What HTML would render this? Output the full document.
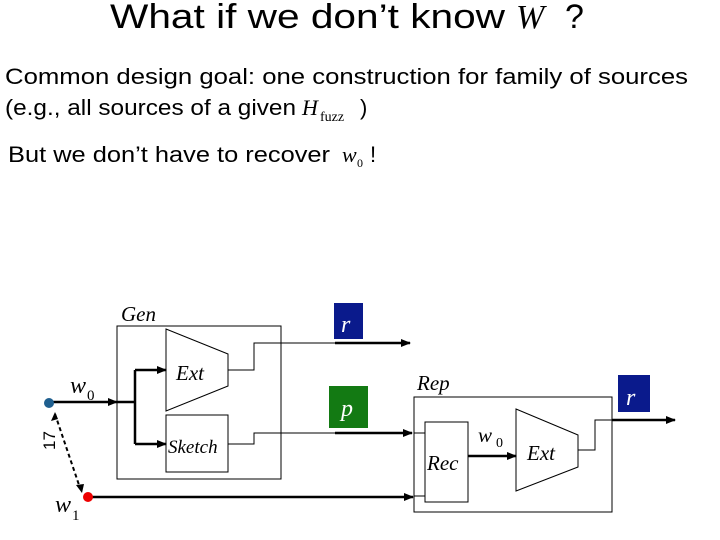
<!DOCTYPE html>
<html><head><meta charset="utf-8"><style>
html,body{margin:0;padding:0;background:#fff;width:720px;height:540px;overflow:hidden}
svg{display:block}
.s{font-family:"Liberation Sans",sans-serif}
.t{font-family:"Liberation Serif",serif;font-style:italic}
</style></head><body>
<svg width="720" height="540" viewBox="0 0 720 540">
<defs><marker id="a" markerWidth="10" markerHeight="8" refX="9" refY="4" orient="auto" markerUnits="userSpaceOnUse"><path d="M0,0L10,4L0,8z" fill="#000"/></marker></defs>
<text class="s" x="110" y="28" font-size="34" textLength="395" lengthAdjust="spacingAndGlyphs">What if we don’t know</text>
<text class="t" x="516" y="28" font-size="34">W</text>
<text class="s" x="565" y="28" font-size="34">?</text>
<text class="s" x="5" y="84" font-size="22" textLength="683" lengthAdjust="spacingAndGlyphs">Common design goal: one construction for family of sources</text>
<text class="s" x="5" y="115" font-size="22" textLength="291" lengthAdjust="spacingAndGlyphs">(e.g., all sources of a given</text>
<text class="t" x="302" y="115" font-size="22">H</text>
<text x="320" y="121" font-size="14" font-family="Liberation Serif">fuzz</text>
<text class="s" x="360" y="115" font-size="22">)</text>
<text class="s" x="8" y="162" font-size="22" textLength="322" lengthAdjust="spacingAndGlyphs">But we don’t have to recover</text>
<text class="t" x="342" y="162" font-size="22">w</text>
<text x="357" y="167" font-size="12" font-family="Liberation Serif">0</text>
<text class="s" x="370" y="162" font-size="22">!</text>
<g fill="none" stroke="#000">
<rect x="117" y="326" width="164" height="153" stroke-width="1"/>
<path d="M166,329L228,354L228,386L166,411Z"/>
<rect x="166" y="415" width="62" height="57"/>
<path d="M228,370H254V343H335" />
<path d="M228,444H254V433H335"/>
<path d="M335,343H410" stroke-width="2.5" marker-end="url(#a)"/>
<path d="M335,433H412" stroke-width="2.5" marker-end="url(#a)"/>
<path d="M52,402H117" stroke-width="2.5" marker-end="url(#a)"/>
<path d="M117,402H135M135,370V444" stroke-width="2.5"/>
<path d="M135,370H166" stroke-width="2.5" marker-end="url(#a)"/>
<path d="M135,444H166" stroke-width="2.5" marker-end="url(#a)"/>
<path d="M92,497H413" stroke-width="2.5" marker-end="url(#a)"/>
<path d="M55,414L79,485" stroke-width="2" stroke-dasharray="4,3"/>
<rect x="414" y="397" width="198" height="115"/>
<rect x="425" y="422" width="43" height="80"/>
<path d="M414,433H425M414,496H425"/>
<path d="M516,409L578,435L578,467L516,491Z"/>
<path d="M468,456H516" stroke-width="2.5" marker-end="url(#a)"/>
<path d="M578,450H595V420H613"/>
<path d="M612,420H675" stroke-width="2.5" marker-end="url(#a)"/>
</g>
<path d="M55,412L51,421L58,419Z" fill="#000"/>
<path d="M82,493L76,485L84,484Z" fill="#000"/>
<circle cx="49" cy="403" r="5" fill="#1f5f8f"/>
<circle cx="88" cy="497" r="5" fill="#e00"/>
<rect x="334" y="303" width="29" height="36" fill="#0a1a8c"/>
<text class="t" x="341" y="332" font-size="24" fill="#fff">r</text>
<rect x="329" y="386" width="39" height="42" fill="#137a13"/>
<text class="t" x="341" y="416" font-size="24" fill="#fff">p</text>
<rect x="618" y="375" width="32" height="37" fill="#0a1a8c"/>
<text class="t" x="626" y="405" font-size="24" fill="#fff">r</text>
<text class="t" x="121" y="321" font-size="21">Gen</text>
<text class="t" x="176" y="380" font-size="21">Ext</text>
<text class="t" x="168" y="453" font-size="19">Sketch</text>
<text class="t" x="70" y="393" font-size="24">w</text>
<text x="87" y="400" font-size="15" font-family="Liberation Serif">0</text>
<text class="t" x="55" y="512" font-size="24">w</text>
<text x="72" y="520" font-size="15" font-family="Liberation Serif">1</text>
<text class="t" x="417" y="390" font-size="21">Rep</text>
<text class="t" x="427" y="470" font-size="21">Rec</text>
<text class="t" x="527" y="460" font-size="21">Ext</text>
<text class="t" x="478" y="442" font-size="21">w</text>
<text x="496" y="447" font-size="14" font-family="Liberation Serif">0</text>
<text class="s" x="0" y="0" font-size="17" transform="translate(55,450) rotate(-90)">17</text>
</svg>
</body></html>
